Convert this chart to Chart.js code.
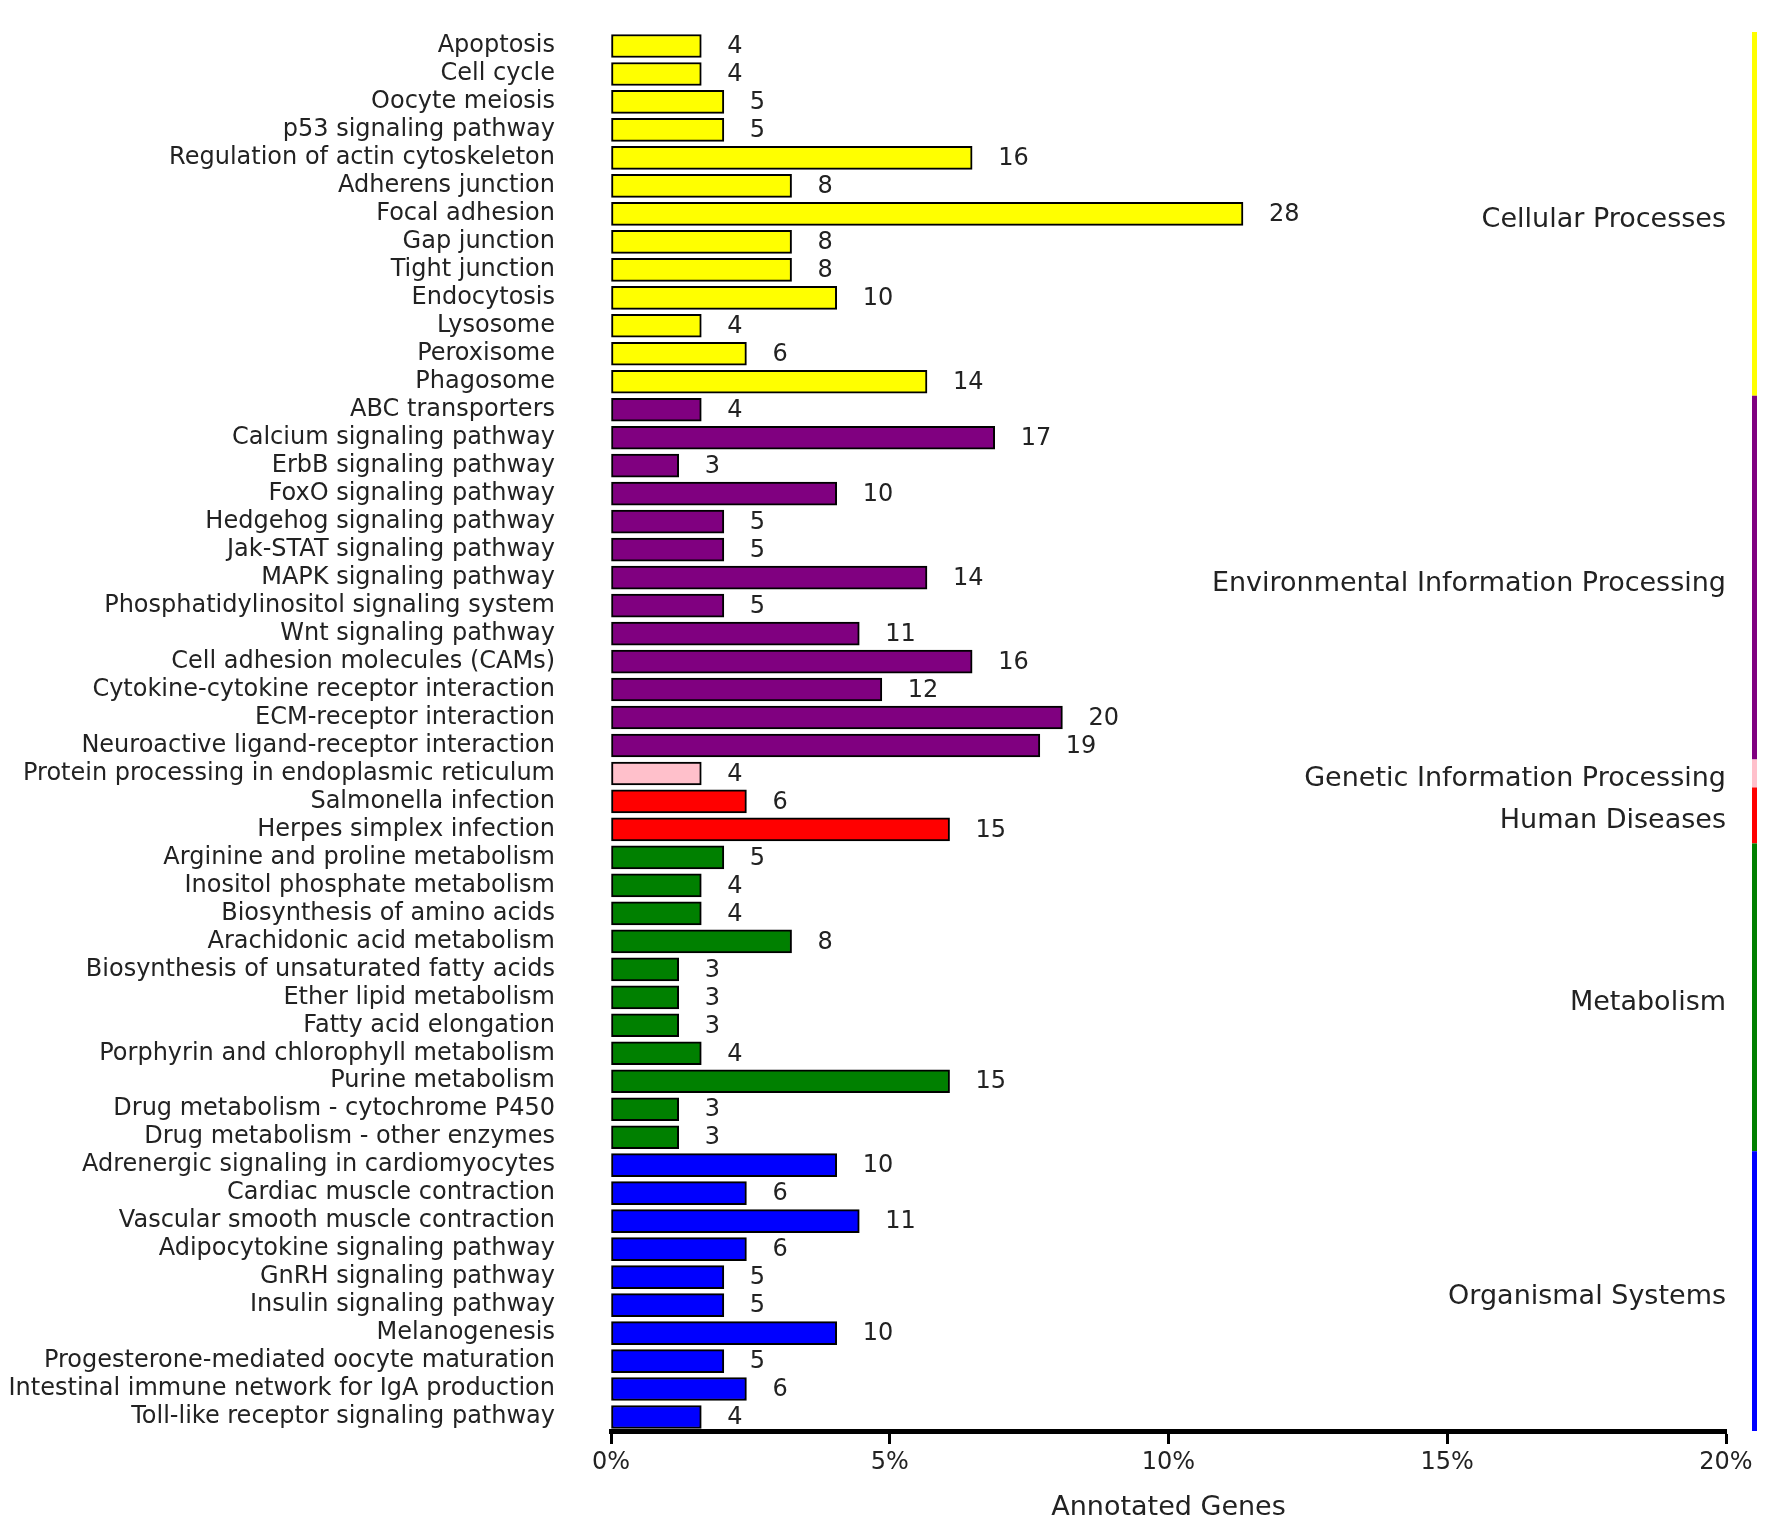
<!DOCTYPE html>
<html>
<head>
<meta charset="utf-8">
<title>KEGG pathway classification</title>
<script src="https://cdn.jsdelivr.net/npm/chart.js@4.4.1/dist/chart.umd.min.js"></script>
<style>
    html, body { margin: 0; padding: 0; background: #ffffff; }
    #keggChart { display: block; }
</style>
</head>
<body>
<canvas id="keggChart" width="1772" height="1527"></canvas>
<script>
// Pathway names, top to bottom
const pathways = [
    'Apoptosis', 'Cell cycle', 'Oocyte meiosis', 'p53 signaling pathway',
    'Regulation of actin cytoskeleton', 'Adherens junction', 'Focal adhesion',
    'Gap junction', 'Tight junction', 'Endocytosis', 'Lysosome', 'Peroxisome', 'Phagosome',
    'ABC transporters', 'Calcium signaling pathway', 'ErbB signaling pathway',
    'FoxO signaling pathway', 'Hedgehog signaling pathway', 'Jak-STAT signaling pathway',
    'MAPK signaling pathway', 'Phosphatidylinositol signaling system', 'Wnt signaling pathway',
    'Cell adhesion molecules (CAMs)', 'Cytokine-cytokine receptor interaction',
    'ECM-receptor interaction', 'Neuroactive ligand-receptor interaction',
    'Protein processing in endoplasmic reticulum',
    'Salmonella infection', 'Herpes simplex infection',
    'Arginine and proline metabolism', 'Inositol phosphate metabolism',
    'Biosynthesis of amino acids', 'Arachidonic acid metabolism',
    'Biosynthesis of unsaturated fatty acids', 'Ether lipid metabolism',
    'Fatty acid elongation', 'Porphyrin and chlorophyll metabolism', 'Purine metabolism',
    'Drug metabolism - cytochrome P450', 'Drug metabolism - other enzymes',
    'Adrenergic signaling in cardiomyocytes', 'Cardiac muscle contraction',
    'Vascular smooth muscle contraction', 'Adipocytokine signaling pathway',
    'GnRH signaling pathway', 'Insulin signaling pathway', 'Melanogenesis',
    'Progesterone-mediated oocyte maturation', 'Intestinal immune network for IgA production',
    'Toll-like receptor signaling pathway'
];

// Annotated gene counts for each pathway
const geneCounts = [
    4, 4, 5, 5, 16, 8, 28, 8, 8, 10, 4, 6, 14,
    4, 17, 3, 10, 5, 5, 14, 5, 11, 16, 12, 20, 19,
    4,
    6, 15,
    5, 4, 4, 8, 3, 3, 3, 4, 15, 3, 3,
    10, 6, 11, 6, 5, 5, 10, 5, 6, 4
];

// total annotated genes (x axis is percentage of this)
const totalGenes = 247;

// KEGG classes and how many pathways fall in each, in order
const classNames = [
    'Cellular Processes', 'Environmental Information Processing',
    'Genetic Information Processing', 'Human Diseases', 'Metabolism', 'Organismal Systems'
];
const classMemberCount = [13, 13, 1, 2, 11, 10];
const classColors = ['#ffff00', '#800080', '#ffc0cb', '#ff0000', '#008000', '#0000ff'];

const xTicks = [0, 5, 10, 15, 20];

const FONT = '"DejaVu Sans", "Lucida Grande", sans-serif';
const TEXT = '#222222';

// colour for each bar from its class
const barColors = [];
classMemberCount.forEach((n, c) => {
    for (let i = 0; i < n; i++) barColors.push(classColors[c]);
});
const percents = geneCounts.map(v => v / totalGenes * 100);

// count labels right of each bar
const countLabels = {
    id: 'countLabels',
    afterDatasetsDraw(chart) {
        const ctx = chart.ctx;
        const meta = chart.getDatasetMeta(0);
        ctx.save();
        ctx.font = '24px ' + FONT;
        ctx.fillStyle = TEXT;
        ctx.textAlign = 'left';
        ctx.textBaseline = 'middle';
        meta.data.forEach((bar, i) => {
            ctx.fillText(String(geneCounts[i]), bar.x + 26, bar.y + 1);
        });
        ctx.restore();
    }
};

// class bars on the right edge and their names
const classStrip = {
    id: 'classStrip',
    afterDraw(chart) {
        const ctx = chart.ctx;
        const y = chart.scales.y;
        const band = y.getPixelForValue(1) - y.getPixelForValue(0);
        let start = 0;
        ctx.save();
        classMemberCount.forEach((n, c) => {
            const top = y.getPixelForValue(start) - band / 2;
            const bottom = y.getPixelForValue(start + n - 1) + band / 2;
            ctx.fillStyle = classColors[c];
            ctx.fillRect(1752, top, 5, bottom - top);
            ctx.font = '27px ' + FONT;
            ctx.fillStyle = TEXT;
            ctx.textAlign = 'right';
            ctx.textBaseline = 'middle';
            ctx.fillText(classNames[c], 1726, (top + bottom) / 2 + 6);
            start += n;
        });
        ctx.restore();
    }
};

const ctx = document.getElementById('keggChart').getContext('2d');
const keggChart = new Chart(ctx, {
    type: 'bar',
    data: {
        labels: pathways,
        datasets: [{
            data: percents,
            backgroundColor: barColors,
            borderColor: '#000000',
            borderWidth: 2,
            borderSkipped: false,
            barThickness: 23
        }]
    },
    options: {
        indexAxis: 'y',
        responsive: false,
        animation: false,
        devicePixelRatio: 1,
        layout: {
            padding: { top: 32, right: 46, left: 0, bottom: 0 }
        },
        plugins: {
            legend: { display: false },
            tooltip: { enabled: false }
        },
        scales: {
            y: {
                type: 'category',
                offset: true,
                grid: { display: false, drawTicks: false },
                border: { display: false },
                ticks: {
                    autoSkip: false,
                    padding: 56,
                    color: TEXT,
                    font: { family: FONT, size: 24 }
                },
                afterFit: function(scale) {
                    scale.width = 611;
                    scale.paddingTop = 0;
                    scale.paddingBottom = 0;
                }
            },
            x: {
                type: 'linear',
                position: 'bottom',
                min: 0,
                max: 20,
                afterBuildTicks: function(scale) {
                    scale.ticks = xTicks.map(v => ({ value: v }));
                },
                grid: {
                    drawOnChartArea: false,
                    drawTicks: true,
                    tickLength: 13,
                    tickWidth: 3,
                    tickColor: '#000000'
                },
                border: { display: true, color: '#000000', width: 5 },
                ticks: {
                    padding: 4,
                    color: TEXT,
                    font: { family: FONT, size: 24 },
                    callback: function(value) {
                        return value + '%';
                    }
                },
                title: {
                    display: true,
                    text: 'Annotated Genes',
                    color: TEXT,
                    font: { family: FONT, size: 27 },
                    padding: { top: 3, bottom: 3 }
                },
                afterFit: function(scale) {
                    scale.height = 96;
                }
            }
        }
    },
    plugins: [countLabels, classStrip]
});
</script>
</body>
</html>
